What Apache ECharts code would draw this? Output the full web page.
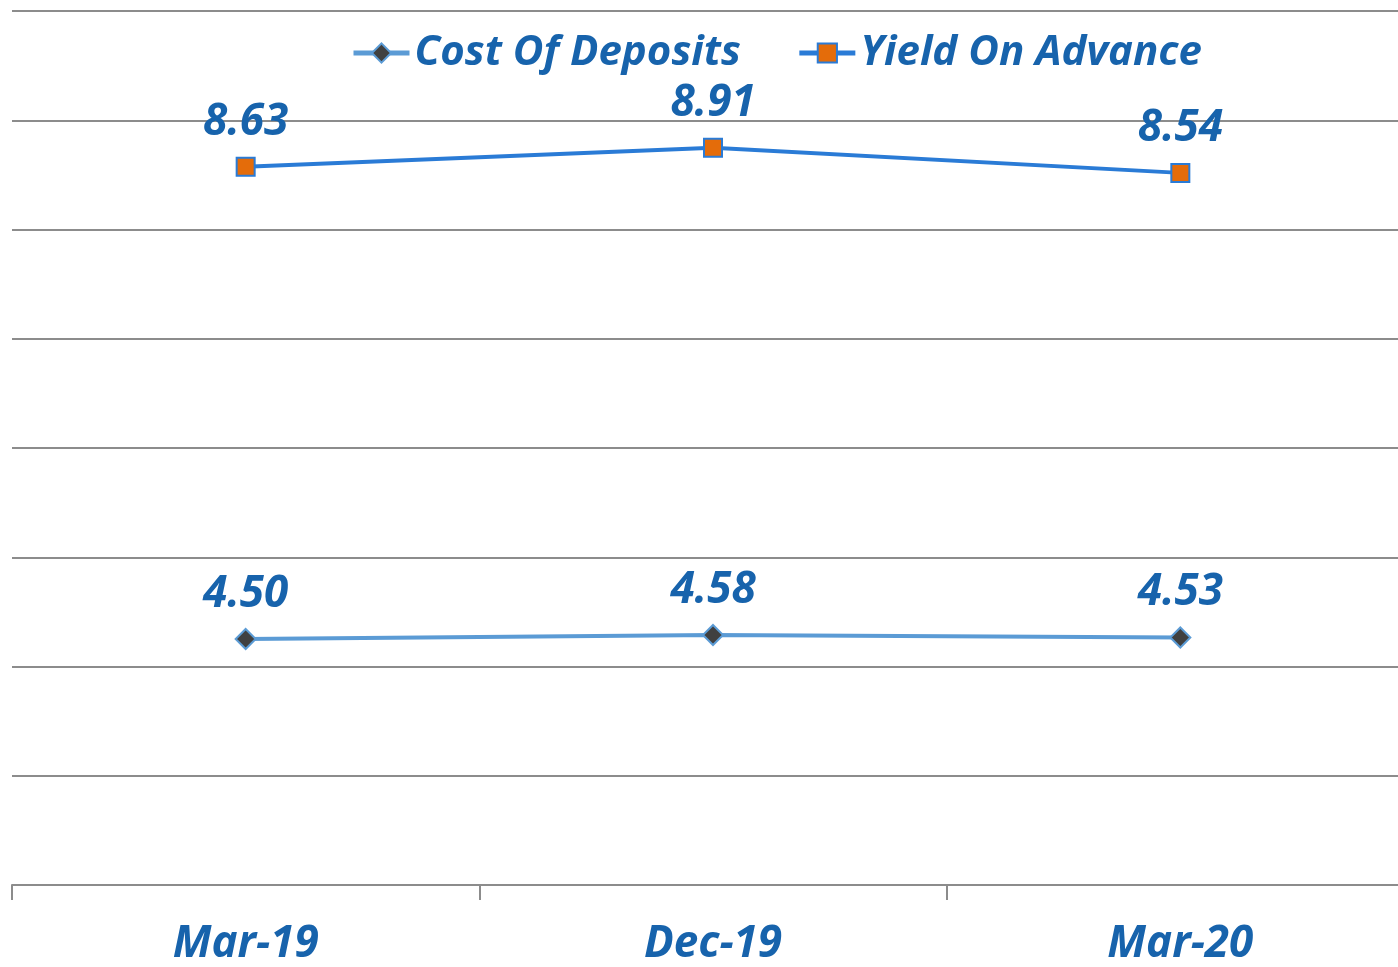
<!DOCTYPE html>
<html lang="en" style="height: 100%">
<head>
  <meta charset="utf-8">
</head>
<body style="height: 100%; margin: 0; background: #fff; overflow: hidden">
  <div id="container" style="width: 1414px; height: 967px"></div>
  <script type="text/javascript" src="https://fastly.jsdelivr.net/npm/echarts@6.0.0/dist/echarts.min.js"></script>
  <script type="text/javascript">
    var categories = ['Mar-19', 'Dec-19', 'Mar-20'];
    var costOfDeposits = [4.50, 4.58, 4.53];
    var yieldOnAdvance = [8.63, 8.91, 8.54];

    var textBlue = '#1763AC';
    var font = 'Open Sans';

    var myChart = echarts.init(document.getElementById('container'), null, { renderer: 'canvas' });

    var labelStyle = {
      show: true,
      position: 'top',
      distance: 12,
      formatter: function (p) { return p.value.toFixed(2); },
      color: textBlue,
      fontFamily: font,
      fontWeight: 'bold',
      fontStyle: 'italic',
      fontSize: 44
    };

    var option = {
      backgroundColor: '#fff',
      animation: false,
      legend: {
        top: 27,
        left: 346,
        itemWidth: 56,
        itemHeight: 24,
        itemGap: 56,
        lineStyle: { width: 5 },
        textStyle: {
          color: textBlue,
          fontFamily: font,
          fontWeight: 'bold',
          fontStyle: 'italic',
          fontSize: 42
        },
        data: ['Cost Of Deposits', 'Yield On Advance']
      },
      grid: { left: 12, right: 0, top: 11, bottom: 82, containLabel: false, outerBoundsMode: 'none' },
      xAxis: {
        type: 'category',
        data: categories,
        axisLine: { lineStyle: { color: '#8c8c8c', width: 2 } },
        axisTick: { show: true, length: 15, lineStyle: { color: '#8c8c8c', width: 2 } },
        axisLabel: {
          margin: 37,
          color: textBlue,
          fontFamily: font,
          fontWeight: 'bold',
          fontStyle: 'italic',
          fontSize: 44
        }
      },
      yAxis: [
        {
          type: 'value', min: 0, max: 8, interval: 1,
          axisLabel: { show: false },
          axisLine: { show: false },
          axisTick: { show: false },
          splitLine: { lineStyle: { color: '#8c8c8c', width: 2 } }
        },
        { type: 'value', min: -1.93, max: 10.92, show: false, splitLine: { show: false } },
        { type: 'value', min: -0.42, max: 17.06, show: false, splitLine: { show: false } }
      ],
      series: [
        {
          name: 'Cost Of Deposits',
          type: 'line',
          yAxisIndex: 2,
          data: costOfDeposits,
          symbol: 'diamond',
          symbolSize: 20,
          lineStyle: { color: '#5B9BD5', width: 4 },
          itemStyle: { color: '#404040', borderColor: '#5B9BD5', borderWidth: 2 },
          label: labelStyle
        },
        {
          name: 'Yield On Advance',
          type: 'line',
          yAxisIndex: 1,
          data: yieldOnAdvance,
          symbol: 'rect',
          symbolSize: 18,
          lineStyle: { color: '#2A7BD6', width: 4 },
          itemStyle: { color: '#E46C0A', borderColor: '#2A7BD6', borderWidth: 2 },
          label: labelStyle
        }
      ]
    };

    myChart.setOption(option);
    window.addEventListener('resize', myChart.resize);
  </script>
</body>
</html>
